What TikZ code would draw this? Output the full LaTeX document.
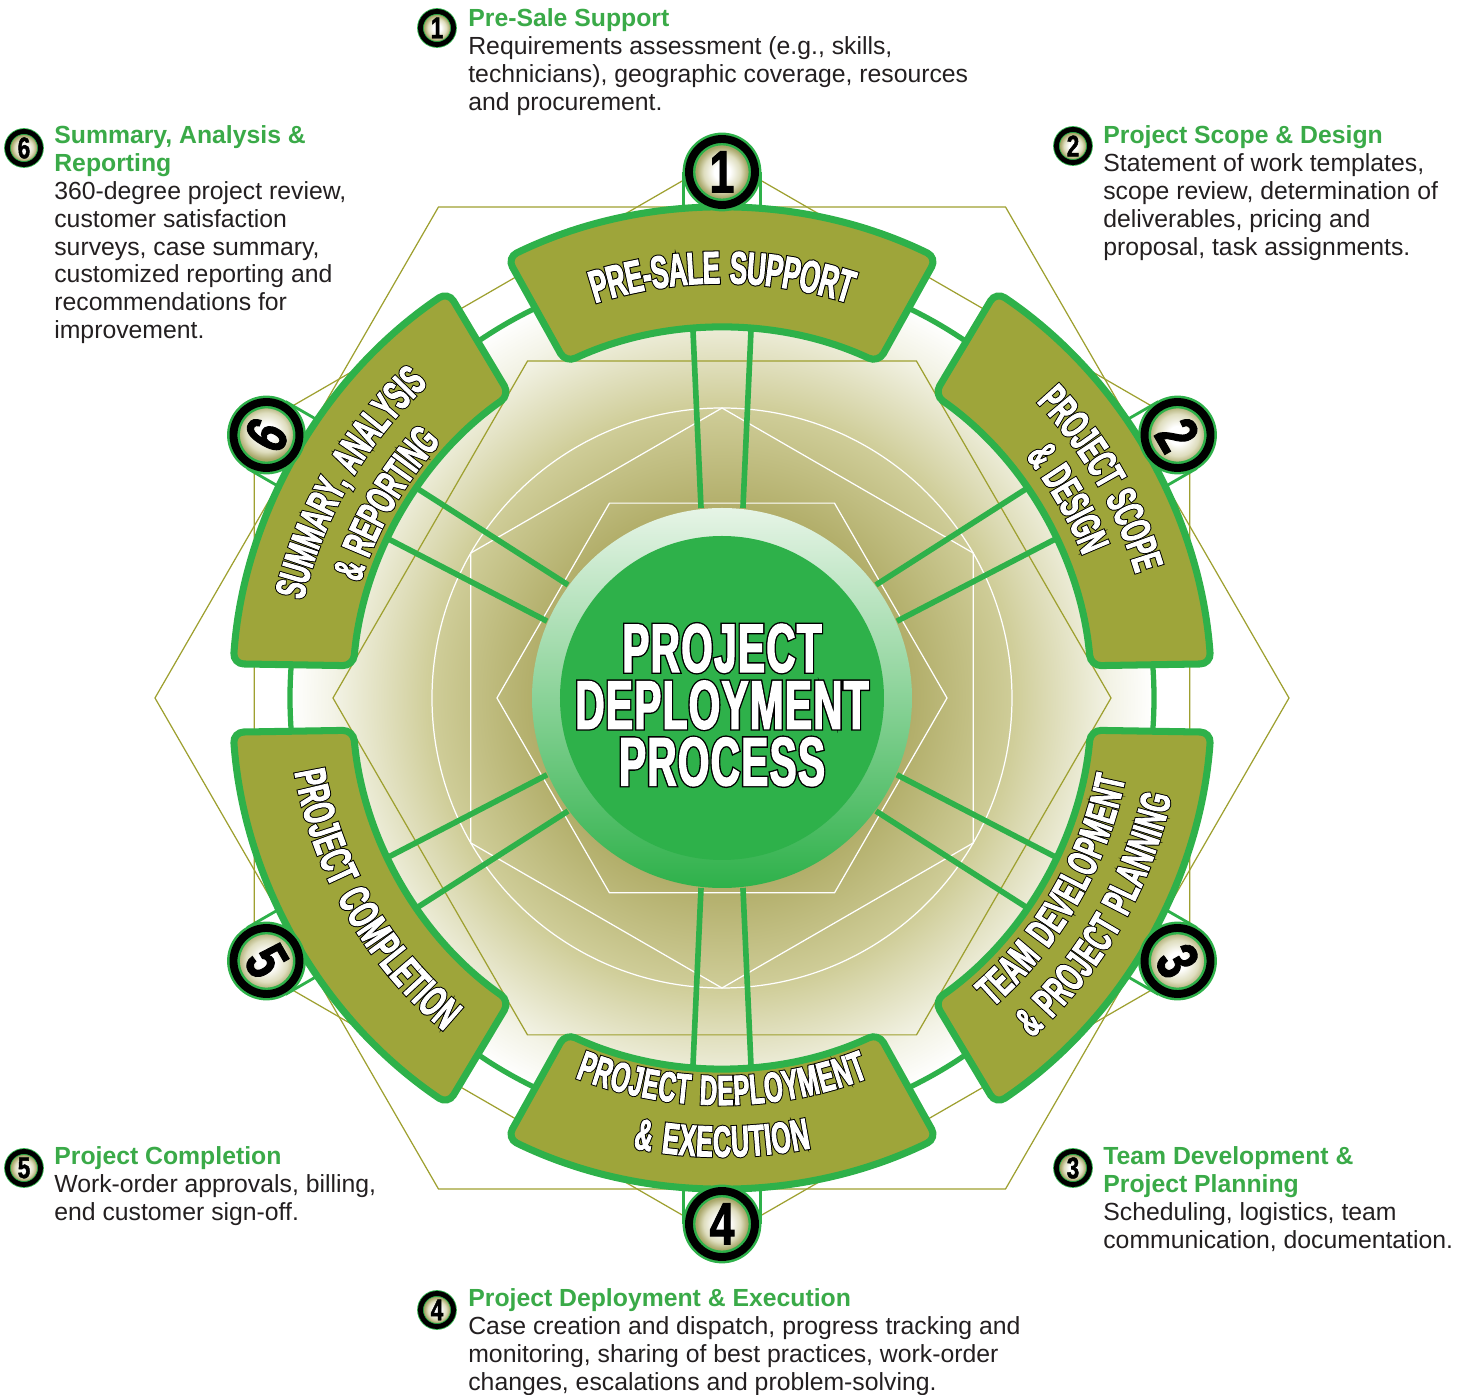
\documentclass[tikz,border=0pt]{standalone}
\usepackage{fontspec}
\setmainfont{Liberation Sans}
\newfontfamily\condfont[FakeStretch=0.57,FakeBold=2,LetterSpace=6]{Liberation Sans Bold}
\newfontfamily\condline[FakeStretch=0.57,FakeBold=6.5,LetterSpace=6]{Liberation Sans Bold}
\newfontfamily\titlefont[FakeStretch=0.59,FakeBold=2,LetterSpace=2]{Liberation Sans Bold}
\newfontfamily\titleline[FakeStretch=0.59,FakeBold=6,LetterSpace=2]{Liberation Sans Bold}
\newfontfamily\digitfont[FakeStretch=0.75,FakeBold=1.5]{Liberation Sans Bold}
\usetikzlibrary{decorations.text}

\definecolor{dgreen}{RGB}{46,177,74}
\definecolor{headgreen}{RGB}{58,170,72}
\definecolor{segolive}{RGB}{158,165,58}
\definecolor{lineolive}{RGB}{158,160,48}
\definecolor{textgray}{RGB}{35,31,32}
\definecolor{lightgreen}{RGB}{230,244,230}
\definecolor{midgreen}{RGB}{120,198,130}
\definecolor{discdark}{RGB}{178,174,106}
\definecolor{discmid}{RGB}{208,206,154}
\definecolor{disclight}{RGB}{243,243,230}
\definecolor{badgemid}{RGB}{222,221,190}
\definecolor{badgeolive}{RGB}{168,166,104}

\pgfdeclareradialshading{discshade}{\pgfpoint{0bp}{0bp}}{color(0bp)=(discdark); color(11bp)=(discdark); color(17bp)=(discmid); color(22.5bp)=(disclight); color(25bp)=(white); color(50bp)=(white)}
\pgfdeclareradialshading{badgeshade}{\pgfpoint{0bp}{0bp}}{color(0bp)=(white); color(6bp)=(white); color(14bp)=(badgemid); color(19.5bp)=(badgeolive); color(50bp)=(badgeolive)}

\begin{document}
\begin{tikzpicture}[x=0.02cm,y=0.02cm,
	thinhex/.style={draw=lineolive,line width=0.7pt},
	whiteline/.style={draw=white,line width=0.7pt},
	spoke/.style={dgreen,line width=3.2pt},
	seg/.style={draw=dgreen,fill=segolive,line width=4pt,rounded corners=6pt},
	tab/.style={draw=dgreen,line width=1.6pt},
	badge/.style={circle,inner sep=0pt,minimum size=1.32cm,shade,shading=badgeshade,draw=dgreen,double=black,double distance=4.5pt,line width=1.4pt,text=black,font=\digitfont\fontsize{34}{34}\selectfont},
	smallbadge/.style={circle,inner sep=0pt,minimum size=0.66cm,shade,shading=badgeshade,draw=dgreen,double=black,double distance=2.8pt,line width=0.5pt,text=black,font=\digitfont\fontsize{17}{17}\selectfont},
	desc/.style={anchor=north west,inner sep=0pt,align=left,text=textgray,font=\fontsize{14.1}{15.9}\selectfont},
	segback/.style n args={3}{decorate,decoration={text along path,text align=center,raise=#3,text color=black,text={|\condline\fontsize{#2}{#2}\selectfont|#1}}},
	segfront/.style n args={3}{decorate,decoration={text along path,text align=center,raise=#3,text color=white,text={|\condfont\fontsize{#2}{#2}\selectfont|#1}}}]

	\useasboundingbox (-722,-697) rectangle (739,698);

	\draw[thinhex] (90:540) -- (30:540) -- (-30:540) -- (-90:540) -- (-150:540) -- (150:540) -- cycle;
	\draw[thinhex] (0:567) -- (60:567) -- (120:567) -- (180:567) -- (240:567) -- (300:567) -- cycle;

	\shade[shading=discshade] (0,0) circle[radius=432];
	\draw[thinhex] (0:389) -- (60:389) -- (120:389) -- (180:389) -- (240:389) -- (300:389) -- cycle;
	\draw[whiteline] (0,0) circle[radius=290];
	\draw[whiteline] (90:290) -- (30:290) -- (-30:290) -- (-90:290) -- (-150:290) -- (150:290) -- cycle;
	\draw[whiteline] (0:225) -- (60:225) -- (120:225) -- (180:225) -- (240:225) -- (300:225) -- cycle;

	\draw[spoke] (96.3:191) -- (94.2:441);
	\draw[spoke] (83.7:191) -- (85.8:441);
	\draw[spoke] (36.3:191) -- (34.2:441);
	\draw[spoke] (23.7:191) -- (25.8:441);
	\draw[spoke] (-23.7:191) -- (-25.8:441);
	\draw[spoke] (-36.3:191) -- (-34.2:441);
	\draw[spoke] (-83.7:191) -- (-85.8:441);
	\draw[spoke] (-96.3:191) -- (-94.2:441);
	\draw[spoke] (216.3:191) -- (214.2:441);
	\draw[spoke] (203.7:191) -- (205.8:441);
	\draw[spoke] (156.3:191) -- (154.2:441);
	\draw[spoke] (143.7:191) -- (145.8:441);
	\draw[dgreen,line width=3pt] (0,0) circle[radius=432];

	\shade[top color=lightgreen,middle color=midgreen,bottom color=dgreen] (0,0) circle[radius=190];
	\fill[dgreen] (0,0) circle[radius=162];
	\node[align=center,inner sep=0pt,text=black,font=\titleline\fontsize{39}{32.3}\selectfont] (titleback) at (0,-7) {PROJECT\\DEPLOYMENT\\PROCESS};
	\node[align=center,inner sep=0pt,text=white,font=\titlefont\fontsize{39}{32.3}\selectfont] (title) at (0,-7) {PROJECT\\DEPLOYMENT\\PROCESS};

	\begin{scope}[shift={(90:526)}]
		\fill[white] (-38.5,0) rectangle (38.5,-70);
		\draw[tab] (-38.5,0) -- (-38.5,-70) (38.5,0) -- (38.5,-70);
	\end{scope}
	\begin{scope}[shift={(30:526)},rotate=-60]
		\fill[white] (-38.5,0) rectangle (38.5,-70);
		\draw[tab] (-38.5,0) -- (-38.5,-70) (38.5,0) -- (38.5,-70);
	\end{scope}
	\begin{scope}[shift={(-30:526)},rotate=-120]
		\fill[white] (-38.5,0) rectangle (38.5,-70);
		\draw[tab] (-38.5,0) -- (-38.5,-70) (38.5,0) -- (38.5,-70);
	\end{scope}
	\begin{scope}[shift={(-90:526)},rotate=180]
		\fill[white] (-38.5,0) rectangle (38.5,-70);
		\draw[tab] (-38.5,0) -- (-38.5,-70) (38.5,0) -- (38.5,-70);
	\end{scope}
	\begin{scope}[shift={(210:526)},rotate=120]
		\fill[white] (-38.5,0) rectangle (38.5,-70);
		\draw[tab] (-38.5,0) -- (-38.5,-70) (38.5,0) -- (38.5,-70);
	\end{scope}
	\begin{scope}[shift={(150:526)},rotate=60]
		\fill[white] (-38.5,0) rectangle (38.5,-70);
		\draw[tab] (-38.5,0) -- (-38.5,-70) (38.5,0) -- (38.5,-70);
	\end{scope}

	\draw[seg] (64:490) arc[start angle=64,end angle=116,radius=490] -- (115:370) arc[start angle=115,end angle=65,radius=370] -- cycle;
	\draw[seg] (4:490) arc[start angle=4,end angle=56,radius=490] -- (55:370) arc[start angle=55,end angle=5,radius=370] -- cycle;
	\draw[seg] (-56:490) arc[start angle=-56,end angle=-4,radius=490] -- (-5:370) arc[start angle=-5,end angle=-55,radius=370] -- cycle;
	\draw[seg] (-116:490) arc[start angle=-116,end angle=-64,radius=490] -- (-65:370) arc[start angle=-65,end angle=-115,radius=370] -- cycle;
	\draw[seg] (184:490) arc[start angle=184,end angle=236,radius=490] -- (235:370) arc[start angle=235,end angle=185,radius=370] -- cycle;
	\draw[seg] (124:490) arc[start angle=124,end angle=176,radius=490] -- (175:370) arc[start angle=175,end angle=125,radius=370] -- cycle;

	\path[segback={PRE-SALE SUPPORT}{26pt}{-9.3pt}] (118:431) arc[start angle=118,end angle=62,radius=431];
	\path[segfront={PRE-SALE SUPPORT}{26pt}{-9.3pt}] (118:431) arc[start angle=118,end angle=62,radius=431];
	\path[segback={PROJECT SCOPE}{24pt}{-8.6pt}] (58:447) arc[start angle=58,end angle=2,radius=447];
	\path[segfront={PROJECT SCOPE}{24pt}{-8.6pt}] (58:447) arc[start angle=58,end angle=2,radius=447];
	\path[segback={{\&} DESIGN}{24pt}{-8.6pt}] (58:403) arc[start angle=58,end angle=2,radius=403];
	\path[segfront={{\&} DESIGN}{24pt}{-8.6pt}] (58:403) arc[start angle=58,end angle=2,radius=403];
	\path[segback={TEAM DEVELOPMENT}{24pt}{-8.6pt}] (-58:396) arc[start angle=-58,end angle=-2,radius=396];
	\path[segfront={TEAM DEVELOPMENT}{24pt}{-8.6pt}] (-58:396) arc[start angle=-58,end angle=-2,radius=396];
	\path[segback={{\&} PROJECT PLANNING}{24pt}{-8.6pt}] (-58:445) arc[start angle=-58,end angle=-2,radius=445];
	\path[segfront={{\&} PROJECT PLANNING}{24pt}{-8.6pt}] (-58:445) arc[start angle=-58,end angle=-2,radius=445];
	\path[segback={PROJECT DEPLOYMENT}{24pt}{-8.6pt}] (-118:392) arc[start angle=-118,end angle=-62,radius=392];
	\path[segfront={PROJECT DEPLOYMENT}{24pt}{-8.6pt}] (-118:392) arc[start angle=-118,end angle=-62,radius=392];
	\path[segback={{\&} EXECUTION}{25pt}{-9pt}] (-118:443) arc[start angle=-118,end angle=-62,radius=443];
	\path[segfront={{\&} EXECUTION}{25pt}{-9pt}] (-118:443) arc[start angle=-118,end angle=-62,radius=443];
	\path[segback={PROJECT COMPLETION}{25pt}{-9pt}] (182:418) arc[start angle=182,end angle=238,radius=418];
	\path[segfront={PROJECT COMPLETION}{25pt}{-9pt}] (182:418) arc[start angle=182,end angle=238,radius=418];
	\path[segback={SUMMARY, ANALYSIS}{24pt}{-8.6pt}] (178:445) arc[start angle=178,end angle=122,radius=445];
	\path[segfront={SUMMARY, ANALYSIS}{24pt}{-8.6pt}] (178:445) arc[start angle=178,end angle=122,radius=445];
	\path[segback={{\&} REPORTING}{24pt}{-8.6pt}] (178:395) arc[start angle=178,end angle=122,radius=395];
	\path[segfront={{\&} REPORTING}{24pt}{-8.6pt}] (178:395) arc[start angle=178,end angle=122,radius=395];

	\node[badge] (b1) at (90:526) {1};
	\node[badge,rotate=-60] (b2) at (30:526) {2};
	\node[badge,rotate=-60] (b3) at (-30:526) {3};
	\node[badge] (b4) at (-90:526) {4};
	\node[badge,rotate=-60] (b5) at (210:526) {5};
	\node[badge,rotate=60] (b6) at (150:526) {6};

	\node[smallbadge] (s1) at (-285,670) {1};
	\node[desc] (d1) at (-254,690) {\textcolor{headgreen}{\bfseries Pre-Sale Support}\\Requirements assessment (e.g., skills,\\technicians), geographic coverage, resources\\and procurement.};
	\node[smallbadge] (s2) at (351,552) {2};
	\node[desc] (d2) at (381,573) {\textcolor{headgreen}{\bfseries Project Scope \& Design}\\Statement of work templates,\\scope review, determination of\\deliverables, pricing and\\proposal, task assignments.};
	\node[smallbadge] (s3) at (351,-470) {3};
	\node[desc] (d3) at (381,-448) {\textcolor{headgreen}{\bfseries Team Development \&}\\\textcolor{headgreen}{\bfseries Project Planning}\\Scheduling, logistics, team\\communication, documentation.};
	\node[smallbadge] (s4) at (-285,-612) {4};
	\node[desc] (d4) at (-254,-590) {\textcolor{headgreen}{\bfseries Project Deployment \& Execution}\\Case creation and dispatch, progress tracking and\\monitoring, sharing of best practices, work-order\\changes, escalations and problem-solving.};
	\node[smallbadge] (s5) at (-698,-470) {5};
	\node[desc] (d5) at (-668,-448) {\textcolor{headgreen}{\bfseries Project Completion}\\Work-order approvals, billing,\\end customer sign-off.};
	\node[smallbadge] (s6) at (-698,550) {6};
	\node[desc] (d6) at (-668,573) {\textcolor{headgreen}{\bfseries Summary, Analysis \&}\\\textcolor{headgreen}{\bfseries Reporting}\\360-degree project review,\\customer satisfaction\\surveys, case summary,\\customized reporting and\\recommendations for\\improvement.};
\end{tikzpicture}
\end{document}
